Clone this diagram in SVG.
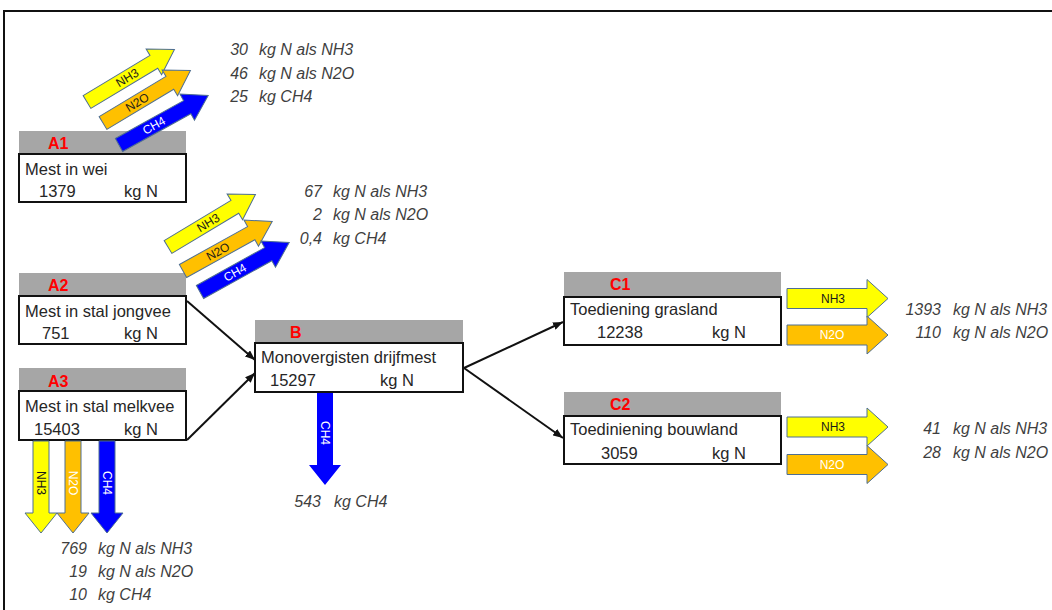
<svg xmlns="http://www.w3.org/2000/svg" xmlns:xlink="http://www.w3.org/1999/xlink" width="1052" height="610" viewBox="0 0 1052 610">
<style>
.hdr{fill:#A6A6A6;stroke:none}
.box{fill:#fff;stroke:#111;stroke-width:2}
.id{font-family:"Liberation Sans",Arial,sans-serif;font-size:16px;font-weight:bold;fill:#FF0000}
.t{font-family:"Liberation Sans",Arial,sans-serif;font-size:16.5px;fill:#262626}
.q{font-family:"Liberation Sans",Arial,sans-serif;font-size:16px;font-style:italic;fill:#3f3f3f}
.al{font-family:"Liberation Sans",Arial,sans-serif;font-size:12px;text-anchor:middle}
.blk{fill:#1a1a1a}
.wht{fill:#ffffff}
.y{fill:#FFFF00}
.o{fill:#FFC000}
.b{fill:#0000FF}
.ba{stroke:#4f6f92;stroke-width:1}
.con{fill:none;stroke:#111;stroke-width:2}
</style>
<defs>
<path id="diag" d="M0,-7.5 H78 V-15 L102,0 L78,15 V7.5 H0 Z"/>
<path id="horz" d="M0,-10 H80 V-19 L101,0 L80,19 V10 H0 Z"/>
<path id="vert" d="M-8,0 V72 H-16 L0,92 L16,72 H8 V0 Z"/>
<marker id="ah" viewBox="0 0 10 8" refX="10" refY="4" markerWidth="10" markerHeight="8" markerUnits="userSpaceOnUse" orient="auto">
<path d="M0,0 L10,4 L0,8 Z" fill="#111"/>
</marker>
</defs>
<rect width="1052" height="610" fill="#fff"/>
<path d="M4,612 V11 H1054" fill="none" stroke="#111" stroke-width="2"/>

<g id="connectors">
<line class="con" x1="187" y1="301" x2="255" y2="360" marker-end="url(#ah)"/>
<line class="con" x1="187" y1="440" x2="255" y2="373" marker-end="url(#ah)"/>
<line class="con" x1="464" y1="368" x2="563" y2="322" marker-end="url(#ah)"/>
<line class="con" x1="464" y1="368" x2="563" y2="438" marker-end="url(#ah)"/>
</g>

<g id="nodeA1">
<rect class="hdr" x="19" y="131" width="167" height="23"/>
<rect class="box" x="19" y="154" width="167" height="48"/>
<text class="id" x="48" y="149">A1</text>
<text class="t" x="25" y="175">Mest in wei</text>
<text class="t" x="39" y="197">1379</text>
<text class="t" x="124" y="197">kg N</text>
</g>
<g id="emisA1">
<g transform="translate(87,102) rotate(-31)"><use href="#diag" class="y ba"/><text class="al blk" x="47" y="4">NH3</text></g>
<g transform="translate(103,123) rotate(-31)"><use href="#diag" class="o ba"/><text class="al blk" x="40" y="4">N2O</text></g>
<g transform="translate(119,145) rotate(-29)"><use href="#diag" class="b ba"/><text class="al wht" x="40" y="4">CH4</text></g>
<text class="q" x="248" y="55" text-anchor="end">30</text><text class="q" x="259" y="55">kg N als NH3</text>
<text class="q" x="248" y="79" text-anchor="end">46</text><text class="q" x="259" y="79">kg N als N2O</text>
<text class="q" x="248" y="102" text-anchor="end">25</text><text class="q" x="259" y="102">kg CH4</text>
</g>

<g id="nodeA2">
<rect class="hdr" x="19" y="273" width="167" height="23"/>
<rect class="box" x="19" y="296" width="167" height="48"/>
<text class="id" x="48" y="291">A2</text>
<text class="t" x="25" y="317">Mest in stal jongvee</text>
<text class="t" x="42" y="339">751</text>
<text class="t" x="124" y="339">kg N</text>
</g>
<g id="emisA2">
<g transform="translate(168,247) rotate(-31)"><use href="#diag" class="y ba"/><text class="al blk" x="47" y="4">NH3</text></g>
<g transform="translate(183,271) rotate(-29)"><use href="#diag" class="o ba"/><text class="al blk" x="40" y="4">N2O</text></g>
<g transform="translate(200,292) rotate(-29)"><use href="#diag" class="b ba"/><text class="al wht" x="40" y="4">CH4</text></g>
<text class="q" x="322" y="197" text-anchor="end">67</text><text class="q" x="333" y="197">kg N als NH3</text>
<text class="q" x="322" y="220" text-anchor="end">2</text><text class="q" x="333" y="220">kg N als N2O</text>
<text class="q" x="322" y="244" text-anchor="end">0,4</text><text class="q" x="333" y="244">kg CH4</text>
</g>

<g id="nodeA3">
<rect class="hdr" x="19" y="368" width="167" height="23"/>
<rect class="box" x="19" y="391" width="167" height="49"/>
<text class="id" x="48" y="387">A3</text>
<text class="t" x="25" y="412">Mest in stal melkvee</text>
<text class="t" x="34" y="435">15403</text>
<text class="t" x="124" y="435">kg N</text>
</g>
<g id="emisA3">
<use href="#vert" class="y ba" transform="translate(41,441)"/>
<use href="#vert" class="o ba" transform="translate(73,441)"/>
<use href="#vert" class="b ba" transform="translate(107,441)"/>
<text class="al blk" transform="translate(41,483) rotate(90)" x="0" y="4">NH3</text>
<text class="al wht" transform="translate(73,483) rotate(90)" x="0" y="4">N2O</text>
<text class="al wht" transform="translate(107,483) rotate(90)" x="0" y="4">CH4</text>
<text class="q" x="87" y="554" text-anchor="end">769</text><text class="q" x="98" y="554">kg N als NH3</text>
<text class="q" x="87" y="577" text-anchor="end">19</text><text class="q" x="98" y="577">kg N als N2O</text>
<text class="q" x="87" y="600" text-anchor="end">10</text><text class="q" x="98" y="600">kg CH4</text>
</g>

<g id="nodeB">
<rect class="hdr" x="255" y="320" width="208" height="23"/>
<rect class="box" x="255" y="343" width="208" height="49"/>
<text class="id" x="290" y="338">B</text>
<text class="t" x="261" y="363">Monovergisten drijfmest</text>
<text class="t" x="270" y="386">15297</text>
<text class="t" x="380" y="386">kg N</text>
</g>
<g id="emisB">
<use href="#vert" class="b" transform="translate(325,393)"/>
<text class="al wht" transform="translate(325,433) rotate(90)" x="0" y="4">CH4</text>
<text class="q" x="321" y="507" text-anchor="end">543</text><text class="q" x="334" y="507">kg CH4</text>
</g>

<g id="nodeC1">
<rect class="hdr" x="564" y="272" width="217" height="25"/>
<rect class="box" x="564" y="297" width="217" height="48"/>
<text class="id" x="610" y="290">C1</text>
<text class="t" x="570" y="315">Toediening grasland</text>
<text class="t" x="597" y="338">12238</text>
<text class="t" x="712" y="338">kg N</text>
</g>
<g id="emisC1">
<use href="#horz" class="y ba" transform="translate(787,298.5)"/>
<use href="#horz" class="o ba" transform="translate(787,335)"/>
<text class="al blk" x="833" y="303">NH3</text>
<text class="al wht" x="832" y="339">N2O</text>
<text class="q" x="941" y="315" text-anchor="end">1393</text><text class="q" x="953" y="315">kg N als NH3</text>
<text class="q" x="941" y="338" text-anchor="end">110</text><text class="q" x="953" y="338">kg N als N2O</text>
</g>

<g id="nodeC2">
<rect class="hdr" x="564" y="392" width="217" height="24"/>
<rect class="box" x="564" y="416" width="217" height="48"/>
<text class="id" x="610" y="410">C2</text>
<text class="t" x="570" y="435">Toediniening bouwland</text>
<text class="t" x="601" y="459">3059</text>
<text class="t" x="712" y="459">kg N</text>
</g>
<g id="emisC2">
<use href="#horz" class="y ba" transform="translate(787,427)"/>
<use href="#horz" class="o ba" transform="translate(787,464.5)"/>
<text class="al blk" x="833" y="431">NH3</text>
<text class="al wht" x="832" y="469">N2O</text>
<text class="q" x="941" y="434" text-anchor="end">41</text><text class="q" x="953" y="434">kg N als NH3</text>
<text class="q" x="941" y="458" text-anchor="end">28</text><text class="q" x="953" y="458">kg N als N2O</text>
</g>
</svg>
